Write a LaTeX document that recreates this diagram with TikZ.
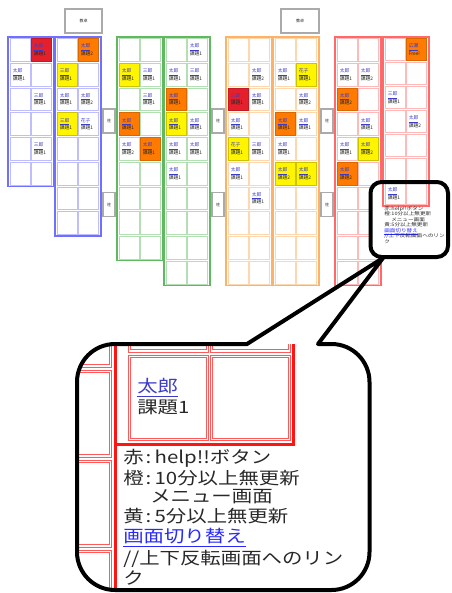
\documentclass[tikz,border=0pt]{standalone}
\usepackage{fontspec}
\newfontfamily\jp{Noto Sans CJK JP}
\newfontfamily\jpw[FakeStretch=1.2]{Noto Sans CJK JP}
\definecolor{blueB}{RGB}{112,112,255}
\definecolor{blueC}{RGB}{190,190,255}
\definecolor{greenB}{RGB}{95,185,95}
\definecolor{greenC}{RGB}{180,222,180}
\definecolor{orangeB}{RGB}{255,178,102}
\definecolor{orangeC}{RGB}{255,215,175}
\definecolor{redB}{RGB}{255,105,105}
\definecolor{redC}{RGB}{255,185,185}
\definecolor{seatR}{RGB}{228,32,44}
\definecolor{seatO}{RGB}{255,122,0}
\definecolor{seatY}{RGB}{255,245,0}
\definecolor{linkblue}{RGB}{60,60,200}
\definecolor{linkblueB}{RGB}{40,40,255}
\definecolor{deskgray}{RGB}{170,170,170}
\definecolor{mred}{RGB}{255,20,20}
\definecolor{mpink}{RGB}{255,90,90}
\definecolor{txt}{RGB}{40,40,40}
% table: #1 X, #2 rows, #3 row pitch, #4 border colour, #5 cell colour
\newcommand\seattab[5]{%
  \draw[line width=1.1pt,#4] (#1,37) rectangle ({#1+46},{37+#2*#3+1});
  \foreach \r in {1,...,#2}{\foreach \c in {0,1}{%
    \draw[line width=0.5pt,#5] ({#1+2.5+\c*21},{38.5+(\r-1)*#3}) rectangle ++(20,{#3-2});}}%
}
% seat: #1 X, #2 row pitch, #3 col, #4 row, #5 fill style, #6 name, #7 task
\newcommand\seat[7]{%
  \path[#5] ({#1+2.5+#3*21},{38.5+(#4-1)*#2}) rectangle ++(20,{#2-2});
  \node[celltxt] (s#1-#3-#4) at ({#1+4.5+#3*21},{38.5+(#4-1)*#2+(#2-2)/2})
    {\textcolor{linkblue}{\underline{#6}}\\#7};%
}
% magnified cell with double border
\newcommand\mcellrect[4]{%
  \draw[mcell] (#1,#2) rectangle (#3,#4);
  \draw[mcell] ({#1+2.6},{#2+2.6}) rectangle ({#3-2.6},{#4-2.6});%
}
\newcommand\colonsep{\hspace{1.5pt}:\hspace{2.5pt}}
\begin{document}
\begin{tikzpicture}[x=0.75pt,y=-0.75pt,
  celltxt/.style={font=\fontsize{3.6pt}{5.6pt}\selectfont\jp,align=left,anchor=west,inner sep=0pt,text=txt},
  fR/.style={fill=seatR,draw=seatR!85!black,line width=0.4pt},
  fO/.style={fill=seatO,draw=seatO!85!black,line width=0.4pt},
  fY/.style={fill=seatY,draw=seatY!80!black,line width=0.4pt},
  nf/.style={},
  desk/.style={draw=deskgray,line width=1.1pt,fill=white,inner sep=0pt,font=\fontsize{3pt}{3pt}\selectfont\jp,text=txt},
  pillar/.style={draw=deskgray,line width=1.1pt,fill=white,inner sep=0pt,minimum width=9pt,minimum height=18pt,font=\fontsize{3pt}{3pt}\selectfont\jp,text=txt},
  smalltxt/.style={font=\fontsize{3.5pt}{4pt}\selectfont\jpw,anchor=base west,inner sep=0pt,text=txt},
  bigtxt/.style={font=\fontsize{12.75pt}{15pt}\selectfont\jpw,anchor=base west,inner sep=0pt,text=txt},
  callout/.style={draw=black,line width=3pt,line join=round},
  mcell/.style={draw=mpink,line width=0.6pt},
  mthick/.style={draw=mred,line width=2.25pt}]
\useasboundingbox (0,0) rectangle (451,593);

% desks and pillars
\node[desk,minimum width=27.75pt,minimum height=18pt] (desk1) at (83.5,21) {教卓};
\node[desk,minimum width=28.5pt,minimum height=18pt] (desk2) at (300,21) {教卓};
\node[pillar] (p1) at (109,121) {柱};
\node[pillar] (p2) at (109,204.5) {柱};
\node[pillar] (p3) at (218,121) {柱};
\node[pillar] (p4) at (218,204.5) {柱};
\node[pillar] (p5) at (327,121) {柱};
\node[pillar] (p6) at (327,204.5) {柱};

% tables
\seattab{8}{6}{24.75}{blueB}{blueC}
\seattab{55}{8}{24.75}{blueB}{blueC}
\seattab{117}{9}{24.75}{greenB}{greenC}
\seattab{164}{10}{24.75}{greenB}{greenC}
\seattab{226}{10}{24.75}{orangeB}{orangeC}
\seattab{273}{10}{24.75}{orangeB}{orangeC}
\seattab{335}{10}{24.75}{redB}{redC}

% blue
\seat{8}{24.75}{1}{1}{fR}{太郎}{課題1}
\seat{8}{24.75}{0}{2}{nf}{太郎}{課題1}
\seat{8}{24.75}{1}{3}{nf}{三郎}{課題1}
\seat{8}{24.75}{1}{5}{nf}{三郎}{課題1}
\seat{55}{24.75}{1}{1}{fO}{太郎}{課題2}
\seat{55}{24.75}{0}{2}{fY}{三郎}{課題1}
\seat{55}{24.75}{0}{3}{nf}{太郎}{課題1}
\seat{55}{24.75}{1}{3}{nf}{太郎}{課題2}
\seat{55}{24.75}{0}{4}{fY}{三郎}{課題1}
\seat{55}{24.75}{1}{4}{nf}{花子}{課題1}
% green
\seat{117}{24.75}{0}{2}{fY}{太郎}{課題1}
\seat{117}{24.75}{1}{2}{nf}{三郎}{課題1}
\seat{117}{24.75}{1}{3}{nf}{三郎}{課題1}
\seat{117}{24.75}{0}{4}{fO}{太郎}{課題1}
\seat{117}{24.75}{0}{5}{nf}{太郎}{課題2}
\seat{117}{24.75}{1}{5}{fO}{太郎}{課題1}
\seat{164}{24.75}{1}{1}{nf}{太郎}{課題1}
\seat{164}{24.75}{0}{2}{nf}{太郎}{課題1}
\seat{164}{24.75}{1}{2}{nf}{三郎}{課題1}
\seat{164}{24.75}{0}{3}{fO}{太郎}{課題1}
\seat{164}{24.75}{0}{4}{fY}{太郎}{課題1}
\seat{164}{24.75}{1}{4}{nf}{太郎}{課題1}
\seat{164}{24.75}{0}{5}{nf}{太郎}{課題1}
\seat{164}{24.75}{1}{5}{nf}{太郎}{課題1}
\seat{164}{24.75}{0}{6}{nf}{太郎}{課題1}
% orange
\seat{226}{24.75}{1}{2}{nf}{太郎}{課題2}
\seat{226}{24.75}{0}{3}{fR}{三郎}{課題1}
\seat{226}{24.75}{1}{3}{nf}{太郎}{課題1}
\seat{226}{24.75}{0}{4}{nf}{太郎}{課題1}
\seat{226}{24.75}{0}{5}{fY}{花子}{課題1}
\seat{226}{24.75}{1}{5}{nf}{三郎}{課題1}
\seat{226}{24.75}{0}{6}{nf}{太郎}{課題1}
\seat{226}{24.75}{1}{7}{nf}{太郎}{課題1}
\seat{273}{24.75}{0}{2}{nf}{太郎}{課題1}
\seat{273}{24.75}{1}{2}{fY}{花子}{課題1}
\seat{273}{24.75}{1}{3}{nf}{太郎}{課題2}
\seat{273}{24.75}{0}{4}{fO}{太郎}{課題1}
\seat{273}{24.75}{1}{4}{nf}{太郎}{課題1}
\seat{273}{24.75}{0}{5}{nf}{太郎}{課題1}
\seat{273}{24.75}{0}{6}{fY}{太郎}{課題2}
\seat{273}{24.75}{1}{6}{fY}{太郎}{課題2}
% red left
\seat{335}{24.75}{0}{2}{nf}{太郎}{課題1}
\seat{335}{24.75}{1}{2}{nf}{太郎}{課題2}
\seat{335}{24.75}{0}{3}{fO}{太郎}{課題2}
\seat{335}{24.75}{1}{4}{nf}{太郎}{課題1}
\seat{335}{24.75}{0}{5}{nf}{太郎}{課題1}
\seat{335}{24.75}{1}{5}{fY}{太郎}{課題2}
\seat{335}{24.75}{0}{6}{fO}{太郎}{課題2}

% small callout (white inside)
\path[fill=white,rounded corners=8.25pt] (370.5,182) rectangle (448,257);

% red right table
\seattab{383}{7}{24}{redB}{redC}
\seat{383}{24}{1}{1}{fO}{広瀬}{Free!}
\seat{383}{24}{0}{3}{nf}{三郎}{課題1}
\seat{383}{24}{1}{4}{nf}{太郎}{課題2}
\seat{383}{24}{0}{7}{nf}{太郎}{課題1}

% small legend
\node[smalltxt] (sl1) at (384,210.3) {赤:help!!ボタン};
\node[smalltxt] (sl2) at (384,215.8) {橙:10分以上無更新};
\node[smalltxt] (sl3) at (391,221.3) {メニュー画面};
\node[smalltxt] (sl4) at (384,226.8) {黄:5分以上無更新};
\node[smalltxt] (sl5) at (384,232.3) {\textcolor{linkblueB}{\underline{画面切り替え}}};
\node[smalltxt] (sl6) at (384,237.8) {//上下反転画面へのリン};
\node[smalltxt] (sl7) at (384,243.3) {ク};

\draw[callout,rounded corners=8.25pt] (370.5,182) rectangle (448,257);

% magnified view
\begin{scope}
\clip[rounded corners=28.5pt] (77,344) rectangle (369.5,590);
\foreach \t in {280,370,460,550} {\mcellrect{40}{\t}{111.5}{\t+87}}
\draw[mthick] (115.5,300) -- (115.5,620);
\mcellrect{128}{260}{208.5}{352}
\mcellrect{210}{260}{290.5}{352}
\mcellrect{128}{355}{208.5}{440.5}
\mcellrect{210}{355}{290.5}{440.5}
\draw[mthick] (293.5,300) -- (293.5,444) -- (114,444);
\node[bigtxt] (mname) at (137,392.5) {\textcolor{linkblue}{\underline{太郎}}};
\node[bigtxt] (mtask) at (137,413.5) {課題1};
\node[bigtxt] (bl1) at (123,463.2) {赤\colonsep help!!ボタン};
\node[bigtxt] (bl2) at (123,484) {橙\colonsep 10分以上無更新};
\node[bigtxt] (bl3) at (150,502.3) {メニュー画面};
\node[bigtxt] (bl4) at (123,522.3) {黄\colonsep 5分以上無更新};
\node[bigtxt] (bl5) at (123,542.5) {\textcolor{linkblueB}{\underline{画面切り替え}}};
\node[bigtxt] (bl6) at (123,564.5) {//上下反転画面へのリン};
\node[bigtxt] (bl7) at (123,584) {ク};
\end{scope}

\draw[callout] (383,258) -- (318,344) -- (331.5,344)
  arc[start angle=270,end angle=360,radius=38] -- (369.5,552)
  arc[start angle=0,end angle=90,radius=38] -- (115,590)
  arc[start angle=90,end angle=180,radius=38] -- (77,382)
  arc[start angle=180,end angle=270,radius=38] -- (247,344) -- cycle;
\end{tikzpicture}
\end{document}
